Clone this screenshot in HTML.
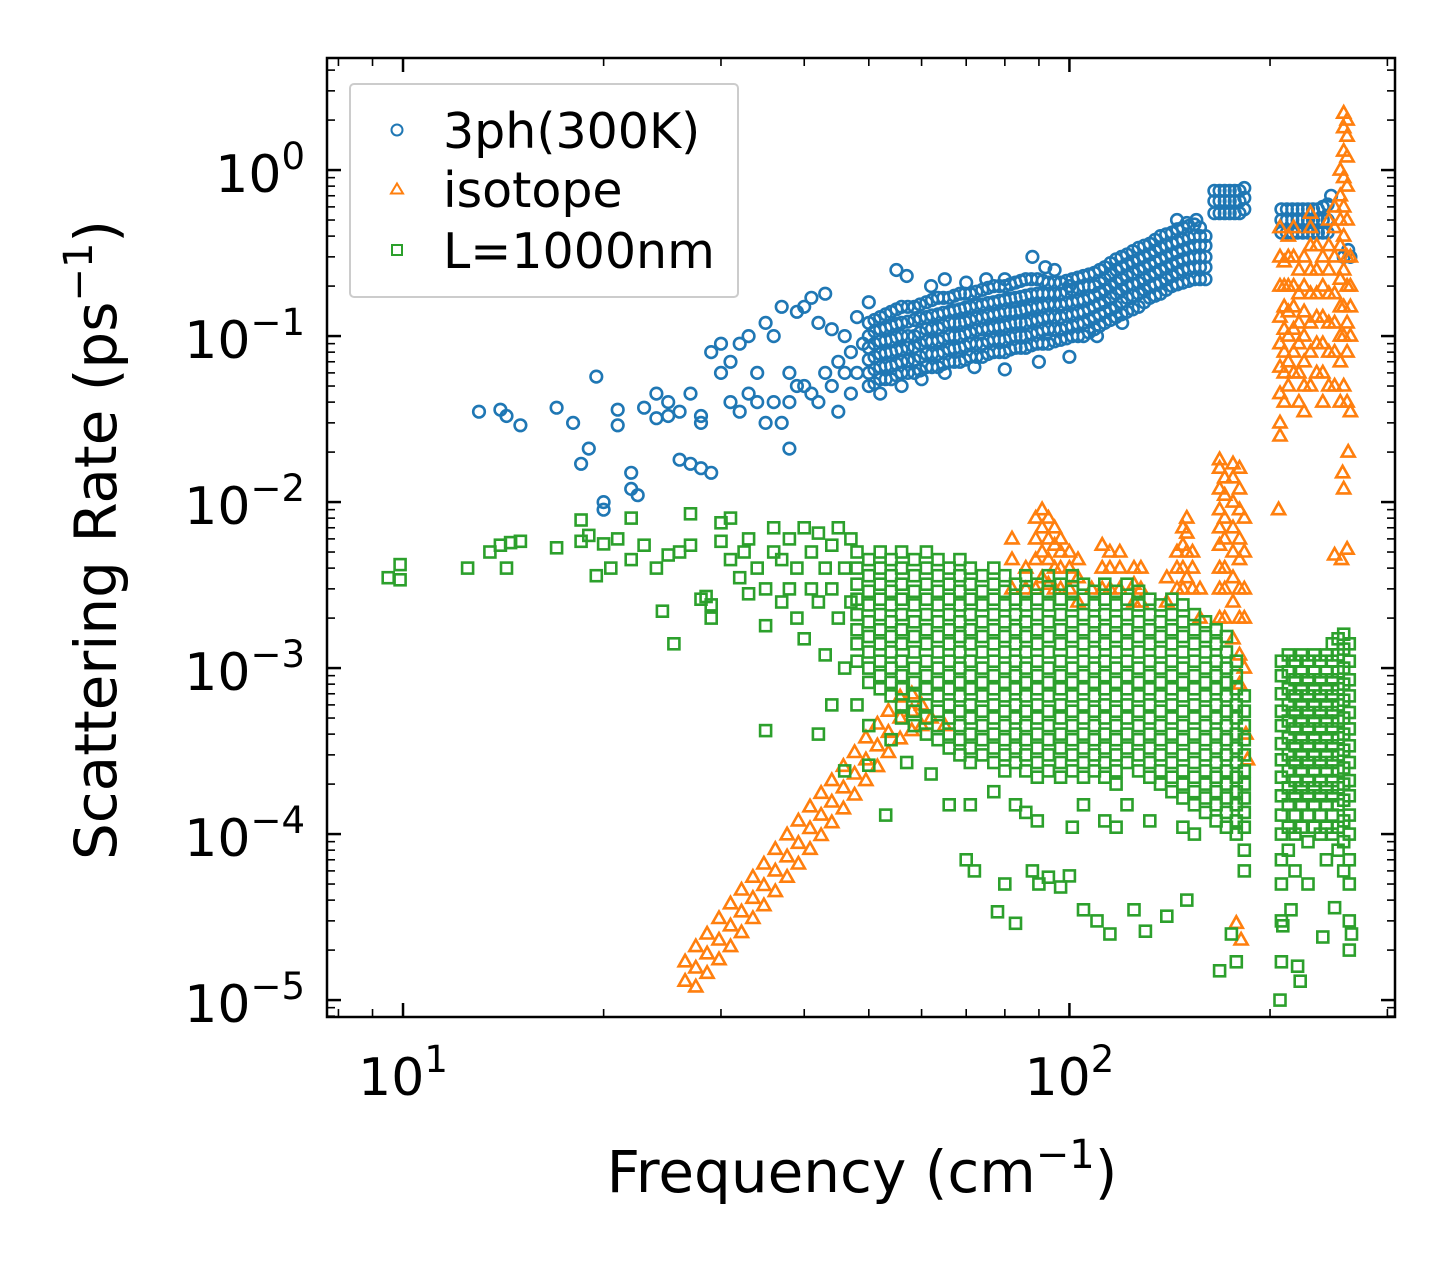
<!DOCTYPE html>
<html><head><meta charset="utf-8"><title>Scattering Rate vs Frequency</title>
<style>
html,body{margin:0;padding:0;background:#fff;}
svg{display:block;font-family:"DejaVu Sans","Liberation Sans",sans-serif;}
</style></head>
<body>
<svg id="chart" width="1455" height="1265" viewBox="0 0 1455 1265" xmlns="http://www.w3.org/2000/svg">
<rect x="0" y="0" width="1455" height="1265" fill="#fff"/>
<g id="marks"></g>
<g id="axes"></g>
<g id="legend">
  <rect x="350" y="84" width="388" height="213" rx="4" fill="#fff" fill-opacity="0.85" stroke="#cccccc" stroke-width="2"/>
  <g>
    <circle cx="397" cy="130" r="5.5" fill="none" stroke="#1f77b4" stroke-width="2"/>
    <text x="443" y="148" font-size="49" fill="#000">3ph(300K)</text>
  </g>
  <g>
    <polygon points="397,183.5 403,193.5 391,193.5" fill="none" stroke="#ff7f0e" stroke-width="2"/>
    <text x="443" y="207" font-size="49" fill="#000">isotope</text>
  </g>
  <g>
    <rect x="392" y="245" width="10" height="10" fill="none" stroke="#2ca02c" stroke-width="2"/>
    <text x="443" y="268" font-size="49" fill="#000">L=1000nm</text>
  </g>
</g>
<text transform="translate(116,540) rotate(-90)" text-anchor="middle" font-size="58" fill="#000">Scattering Rate (ps<tspan font-size="40" dy="-24">−1</tspan><tspan dy="24">)</tspan></text>
<text x="862" y="1192" text-anchor="middle" font-size="58" fill="#000">Frequency (cm<tspan font-size="40" dy="-24">−1</tspan><tspan dy="24">)</tspan></text>
</svg>
<script>
// ---- axis geometry ----
const plotL = 327, plotR = 1395, plotT = 58, plotB = 1017;
const xLogMin = Math.log10(7.69), xLogMax = Math.log10(308);
const yLogMin = -5.102, yLogMax = 0.675;
function xScale(f){ return plotL + (Math.log10(f) - xLogMin) / (xLogMax - xLogMin) * (plotR - plotL); }
function yScale(r){ return plotB - (Math.log10(r) - yLogMin) / (yLogMax - yLogMin) * (plotB - plotT); }

// ---- tick data ----
const xMajorTicks = [10, 100];
const xMajorLabels = ["1", "2"];
const xMinorTicks = [8, 9, 20, 30, 40, 50, 60, 70, 80, 90, 200, 300];
const yMajorTicks = [1e-5, 1e-4, 1e-3, 1e-2, 1e-1, 1];
const yMajorLabels = ["−5", "−4", "−3", "−2", "−1", "0"];
const yMinorMultipliers = [2, 3, 4, 5, 6, 7, 8, 9];

// ---- 3ph (300K) series ----
const phPoints = [[13,0.035],[14,0.036],[14.3,0.033],[15,0.029],[17,0.037],[18,0.03],[18.5,0.017],[19,0.021],[19.5,0.057],[20,0.009],[20,0.01],[21,0.036],[21,0.029],[22,0.012],[22,0.015],[22.5,0.011],[23,0.037],[24,0.045],[24,0.032],[25,0.033],[25,0.04],[26,0.018],[26,0.035],[27,0.045],[27,0.017],[28,0.033],[28,0.03],[28,0.016],[29,0.015],[29,0.08],[30,0.09],[30,0.06],[31,0.07],[31,0.04],[32,0.035],[32,0.09],[33,0.1],[33,0.045],[34,0.04],[34,0.06],[35,0.03],[35,0.12],[36,0.04],[36,0.1],[37,0.15],[37,0.03],[38,0.04],[38,0.06],[38,0.021],[39,0.14],[39,0.05],[40,0.15],[40,0.05],[41,0.045],[41,0.17],[42,0.12],[42,0.04],[43,0.18],[43,0.06],[44,0.05],[44,0.11],[45,0.07],[45,0.035],[46,0.1],[46,0.06],[47,0.08],[47,0.045],[48,0.13],[48,0.06],[49,0.09],[50,0.16],[55,0.25],[57,0.23],[62,0.2],[65,0.22],[70,0.21],[75,0.22],[80,0.22],[88,0.3],[92,0.26],[95,0.25],[100,0.2],[52,0.045],[56,0.05],[60,0.055],[65,0.06],[72,0.065],[80,0.063],[90,0.07],[100,0.075],[110,0.1],[120,0.12],[145,0.5],[150,0.48],[155,0.5],[258,0.3],[262,0.33],[264,0.3],[247,0.7]];
const phColumns = [[50,0.05,0.06,0.072,0.085,0.1,0.12],[52,0.055,0.065,0.078,0.093,0.11,0.13],[54,0.055,0.066,0.08,0.095,0.115,0.14],[56,0.06,0.07,0.083,0.1,0.12,0.15],[58.5,0.06,0.072,0.086,0.1,0.125,0.15],[61,0.065,0.078,0.093,0.11,0.13,0.16],[63.5,0.065,0.078,0.094,0.112,0.135,0.17],[66,0.07,0.083,0.1,0.12,0.14,0.17],[68.5,0.07,0.085,0.1,0.12,0.145,0.18],[71,0.075,0.09,0.105,0.125,0.15,0.18],[74,0.075,0.09,0.11,0.13,0.155,0.19],[77,0.08,0.095,0.113,0.135,0.16,0.2],[80,0.08,0.095,0.115,0.14,0.165,0.2],[83,0.085,0.1,0.12,0.14,0.17,0.21],[86,0.085,0.1,0.12,0.145,0.175,0.22],[89.5,0.09,0.105,0.125,0.15,0.18,0.22],[93,0.09,0.11,0.13,0.155,0.18,0.21],[97,0.095,0.11,0.13,0.155,0.18,0.21],[101,0.1,0.115,0.135,0.16,0.19,0.22],[105,0.1,0.12,0.14,0.165,0.2,0.23],[109,0.11,0.13,0.15,0.175,0.2,0.24],[113,0.12,0.14,0.16,0.19,0.22,0.26],[117.5,0.13,0.15,0.18,0.21,0.25,0.29],[122,0.14,0.17,0.2,0.23,0.27,0.31],[127,0.15,0.18,0.21,0.25,0.29,0.34],[132,0.17,0.2,0.23,0.27,0.31,0.36],[137,0.18,0.21,0.25,0.29,0.34,0.4],[142.5,0.2,0.23,0.27,0.31,0.36,0.42],[148,0.21,0.25,0.29,0.33,0.38,0.45],[154,0.22,0.26,0.3,0.35,0.4,0.47],[160,0.22,0.26,0.3,0.35,0.4],[165,0.55,0.65,0.75],[168,0.55,0.65,0.75],[171,0.55,0.65,0.75],[174,0.55,0.65,0.75],[177,0.55,0.65,0.75],[180,0.55,0.65,0.75],[183,0.58,0.68,0.78],[208,0.42,0.5,0.58],[212,0.42,0.5,0.58],[216,0.42,0.5,0.58],[220,0.42,0.5,0.58],[224,0.42,0.5,0.58],[228,0.42,0.5,0.58],[232,0.42,0.5,0.58],[236,0.42,0.5,0.58],[240,0.42,0.5,0.6],[244,0.42,0.5,0.62],
[51,0.052,0.063,0.075,0.09,0.107,0.125],[53,0.055,0.066,0.079,0.094,0.112,0.135],[55,0.058,0.068,0.082,0.098,0.118,0.145],[57.2,0.06,0.071,0.085,0.1,0.122,0.15],[59.7,0.062,0.075,0.09,0.105,0.128,0.155],[62.2,0.065,0.078,0.093,0.111,0.133,0.165],[64.7,0.068,0.08,0.097,0.116,0.138,0.17],[67.2,0.07,0.084,0.1,0.12,0.143,0.175],[69.7,0.072,0.087,0.103,0.122,0.148,0.18],[72.5,0.075,0.09,0.108,0.128,0.153,0.185],[75.5,0.078,0.093,0.111,0.133,0.158,0.195],[78.5,0.08,0.095,0.114,0.137,0.163,0.2],[81.5,0.083,0.098,0.118,0.14,0.168,0.205],[84.5,0.085,0.1,0.12,0.143,0.172,0.215],[87.7,0.088,0.103,0.123,0.148,0.178,0.22],[91.2,0.09,0.108,0.128,0.152,0.18,0.215],[95,0.093,0.11,0.13,0.155,0.18,0.21],[99,0.097,0.113,0.133,0.158,0.185,0.215],[103,0.1,0.118,0.138,0.163,0.195,0.225],[107,0.105,0.125,0.145,0.17,0.2,0.235],[111,0.115,0.135,0.155,0.182,0.21,0.25],[115.2,0.125,0.145,0.17,0.2,0.235,0.275],[119.7,0.135,0.16,0.19,0.22,0.26,0.3],[124.5,0.145,0.175,0.205,0.24,0.28,0.325],[129.5,0.16,0.19,0.22,0.26,0.3,0.35],[134.5,0.175,0.205,0.24,0.28,0.325,0.38],[139.7,0.19,0.22,0.26,0.3,0.35,0.41],[145.2,0.205,0.24,0.28,0.32,0.37,0.44],[151,0.215,0.255,0.295,0.34,0.39,0.46],[157,0.22,0.26,0.3,0.35,0.4,0.45]];

// ---- isotope series ----
const isoColumns = [[26.5,1.3e-5,1.7e-5],[27.5,1.2e-5,1.56e-5,2.1e-5],[28.6,1.45e-5,1.9e-5,2.5e-5],[29.8,1.75e-5,2.3e-5,3.1e-5],[31,2.1e-5,2.8e-5,3.8e-5],[32.2,2.55e-5,3.4e-5,4.6e-5],[33.5,3.1e-5,4.1e-5,5.5e-5],[34.8,3.7e-5,4.9e-5,6.6e-5],[36.2,4.5e-5,6e-5,8.1e-5],[37.7,5.5e-5,7.3e-5,9.9e-5],[39.2,6.6e-5,8.8e-5,1.2e-4],[40.8,8.1e-5,1.08e-4,1.46e-4],[42.4,9.8e-5,1.3e-4,1.76e-4],[44,1.17e-4,1.56e-4,2.1e-4],[45.8,1.42e-4,1.9e-4,2.56e-4],[47.6,1.72e-4,2.3e-4,3.1e-4],[49.5,2.1e-4,2.8e-4,3.8e-4],[51.5,2.55e-4,3.4e-4,4.6e-4],[53.5,3.1e-4,4.1e-4,5.5e-4],[55.7,3.75e-4,5e-4,6.7e-4],[58,4.2e-4,5.5e-4,7e-4],[60,4.5e-4,6e-4],[62,5e-4],[65,4.5e-4],[82,3e-3,4.5e-3,6e-3],[86,3e-3,4e-3],[89,3e-3,4.5e-3,6e-3,8e-3],[91,3.5e-3,5e-3,7e-3,9e-3],[93,3.2e-3,4.5e-3,6e-3,8e-3],[95,3e-3,4e-3,5.5e-3,7e-3],[97,3e-3,4e-3,5e-3,6e-3],[100,3e-3,4e-3,5e-3],[103,2.5e-3,3.5e-3,4.5e-3],[108,3e-3],[112,3e-3,4e-3,5.5e-3],[115,3e-3,4e-3,5e-3],[119,3e-3,4e-3,5e-3],[125,2.5e-3,3.2e-3,4e-3],[128,2.5e-3,3e-3,4e-3],[140,2.5e-3,3.5e-3],[145,3e-3,4e-3,5e-3],[148,3e-3,4e-3,5.5e-3,7e-3],[150,3.5e-3,5e-3,6.5e-3,8e-3],[153,3e-3,4e-3,5e-3],[157,2e-3,3e-3],[168,2e-3,3e-3,4e-3,5.5e-3,7e-3,9e-3,0.012,0.016,0.018],[171,2e-3,3e-3,4e-3,6e-3,8e-3,0.011,0.014],[176,1.5e-3,2.5e-3,3.5e-3,5e-3,7e-3,0.01,0.014,0.017],[180,1.2e-3,2e-3,3e-3,4.5e-3,6e-3,9e-3,0.012,0.016],[183,1e-3,2e-3,3e-3,5e-3,8e-3],[207,0.03,0.045,0.065,0.09,0.13,0.2,0.3,0.45],[210,0.04,0.06,0.08,0.11,0.15,0.2,0.28],[213,0.05,0.07,0.1,0.14,0.2,0.3,0.4],[217,0.06,0.08,0.11,0.15,0.2,0.3,0.45],[221,0.04,0.06,0.09,0.12,0.18,0.25],[225,0.035,0.05,0.07,0.1,0.14,0.2,0.3],[230,0.05,0.08,0.12,0.18,0.25,0.35,0.45,0.55],[235,0.06,0.09,0.13,0.18,0.25,0.35],[240,0.04,0.06,0.09,0.13,0.2,0.3],[245,0.05,0.08,0.12,0.18,0.25,0.35,0.5],[250,0.05,0.08,0.12,0.18,0.3,0.45,0.6],[255,0.04,0.07,0.1,0.15,0.22,0.35,0.5,0.7,1.0],[258,0.05,0.1,0.15,0.25,0.4,0.6,0.9,1.3,1.8,2.2],[261,0.04,0.08,0.12,0.2,0.3,0.5,0.8,1.2,1.6,2.0],[264,0.035,0.1,0.15,0.2,0.3]];
const isoPoints = [[180,8e-4],[178,2.9e-5],[181,2.3e-5],[184,4e-4],[185,2.8e-4],[206,0.009],[250,0.0048],[256,0.0045],[261,0.0052],[258,0.012],[262,0.02],[257,0.015],[207,0.025]];

// ---- L=1000nm boundary series ----
const bndPoints = [[9.5,3.5e-3],[9.9,4.2e-3],[9.9,3.4e-3],[12.5,4e-3],[13.5,5e-3],[14,5.5e-3],[14.3,4e-3],[14.5,5.7e-3],[15,5.8e-3],[17,5.3e-3],[18.5,5.8e-3],[18.5,7.8e-3],[19,6.3e-3],[19.5,3.6e-3],[20,5.6e-3],[20.5,4e-3],[21,6e-3],[22,8e-3],[22,4.5e-3],[23,5.5e-3],[24,4e-3],[24.5,2.2e-3],[25,4.8e-3],[25.5,1.4e-3],[26,5e-3],[27,8.5e-3],[27,5.5e-3],[28,2.6e-3],[28.5,2.7e-3],[29,2.4e-3],[29,2e-3],[30,5.8e-3],[30,7.5e-3],[31,8e-3],[31,4.5e-3],[32,3.5e-3],[32.5,5e-3],[33,2.8e-3],[33,6e-3],[34,4e-3],[35,1.8e-3],[35,3e-3],[36,5e-3],[36,7e-3],[37,2.5e-3],[37,4.5e-3],[38,3e-3],[38,6e-3],[39,2e-3],[39,4e-3],[40,7e-3],[40,1.5e-3],[41,3e-3],[41,5e-3],[42,2.5e-3],[42,6.5e-3],[43,4e-3],[43,1.2e-3],[44,3e-3],[44,5.5e-3],[45,7e-3],[45,2e-3],[46,4e-3],[46,1e-3],[47,6e-3],[47,2.5e-3],[35,4.2e-4],[44,6e-4],[46,2.4e-4],[42,4e-4],[50,2.6e-4],[53,1.3e-4],[57,2.7e-4],[62,2.3e-4],[66,1.5e-4],[78,3.4e-5],[80,5e-5],[83,2.9e-5],[88,6e-5],[90,5e-5],[93,5.5e-5],[97,4.8e-5],[100,5.6e-5],[105,3.5e-5],[110,3e-5],[115,2.5e-5],[125,3.5e-5],[130,2.6e-5],[140,3.2e-5],[150,4e-5],[168,1.5e-5],[175,2.5e-5],[178,1.7e-5],[70,7e-5],[72,6e-5],[207,1e-5],[208,1.7e-5],[209,2.8e-5],[220,1.6e-5],[222,1.3e-5],[240,2.4e-5],[250,3.6e-5],[265,2.5e-5],[215,3.5e-5]];
const bndColumns = [[48,5e-3,4e-3,3.2e-3,2.6e-3,2.1e-3,1.7e-3,1.4e-3,1.1e-3,6e-4],[50,4.5e-3,3.6e-3,2.9e-3,2.4e-3,1.9e-3,1.55e-3,1.25e-3,1e-3,8.2e-4,4.5e-4],[52,5e-3,4e-3,3.2e-3,2.6e-3,2.1e-3,1.7e-3,1.4e-3,1.1e-3,9e-4,7.5e-4],[54,4.5e-3,3.6e-3,2.9e-3,2.4e-3,1.9e-3,1.55e-3,1.25e-3,1e-3,8.2e-4,6.8e-4,3.7e-4],[56,5e-3,4e-3,3.2e-3,2.6e-3,2.1e-3,1.7e-3,1.4e-3,1.1e-3,9e-4,7.5e-4,6e-4,5e-4],[58.5,4.5e-3,3.6e-3,2.9e-3,2.4e-3,1.9e-3,1.55e-3,1.25e-3,1e-3,8.2e-4,6.8e-4,5.5e-4,4.5e-4],[61,5e-3,4e-3,3.2e-3,2.6e-3,2.1e-3,1.7e-3,1.4e-3,1.1e-3,9e-4,7.5e-4,6e-4,5e-4,4e-4],[63.5,4.5e-3,3.6e-3,2.9e-3,2.4e-3,1.9e-3,1.55e-3,1.25e-3,1e-3,8.2e-4,6.8e-4,5.5e-4,4.5e-4,3.7e-4],[66,4e-3,3.2e-3,2.6e-3,2.1e-3,1.7e-3,1.4e-3,1.1e-3,9e-4,7.5e-4,6e-4,5e-4,4e-4,3.3e-4],[68.5,4.5e-3,3.6e-3,2.9e-3,2.4e-3,1.9e-3,1.55e-3,1.25e-3,1e-3,8.2e-4,6.8e-4,5.5e-4,4.5e-4,3.7e-4,3e-4],[71,4e-3,3.2e-3,2.6e-3,2.1e-3,1.7e-3,1.4e-3,1.1e-3,9e-4,7.5e-4,6e-4,5e-4,4e-4,3.3e-4,2.7e-4,1.5e-4],[74,3.6e-3,2.9e-3,2.4e-3,1.9e-3,1.55e-3,1.25e-3,1e-3,8.2e-4,6.8e-4,5.5e-4,4.5e-4,3.7e-4,3e-4],[77,4e-3,3.2e-3,2.6e-3,2.1e-3,1.7e-3,1.4e-3,1.1e-3,9e-4,7.5e-4,6e-4,5e-4,4e-4,3.3e-4,2.7e-4,1.8e-4],[80,3.6e-3,2.9e-3,2.4e-3,1.9e-3,1.55e-3,1.25e-3,1e-3,8.2e-4,6.8e-4,5.5e-4,4.5e-4,3.7e-4,3e-4,2.4e-4],[83,3.2e-3,2.6e-3,2.1e-3,1.7e-3,1.4e-3,1.1e-3,9e-4,7.5e-4,6e-4,5e-4,4e-4,3.3e-4,2.7e-4,1.5e-4],[86,3.6e-3,2.9e-3,2.4e-3,1.9e-3,1.55e-3,1.25e-3,1e-3,8.2e-4,6.8e-4,5.5e-4,4.5e-4,3.7e-4,3e-4,2.4e-4,1.35e-4],[89.5,3.2e-3,2.6e-3,2.1e-3,1.7e-3,1.4e-3,1.1e-3,9e-4,7.5e-4,6e-4,5e-4,4e-4,3.3e-4,2.7e-4,2.2e-4,1.2e-4],[93,3.6e-3,2.9e-3,2.4e-3,1.9e-3,1.55e-3,1.25e-3,1e-3,8.2e-4,6.8e-4,5.5e-4,4.5e-4,3.7e-4,3e-4,2.4e-4],[97,3.2e-3,2.6e-3,2.1e-3,1.7e-3,1.4e-3,1.1e-3,9e-4,7.5e-4,6e-4,5e-4,4e-4,3.3e-4,2.7e-4,2.2e-4],[101,3.6e-3,2.9e-3,2.4e-3,1.9e-3,1.55e-3,1.25e-3,1e-3,8.2e-4,6.8e-4,5.5e-4,4.5e-4,3.7e-4,3e-4,2.4e-4,1.1e-4],[105,3.2e-3,2.6e-3,2.1e-3,1.7e-3,1.4e-3,1.1e-3,9e-4,7.5e-4,6e-4,5e-4,4e-4,3.3e-4,2.7e-4,2.2e-4,1.5e-4],[109,2.9e-3,2.4e-3,1.9e-3,1.55e-3,1.25e-3,1e-3,8.2e-4,6.8e-4,5.5e-4,4.5e-4,3.7e-4,3e-4,2.4e-4],[113,3.2e-3,2.6e-3,2.1e-3,1.7e-3,1.4e-3,1.1e-3,9e-4,7.5e-4,6e-4,5e-4,4e-4,3.3e-4,2.7e-4,2.2e-4,1.2e-4],[117.5,2.9e-3,2.4e-3,1.9e-3,1.55e-3,1.25e-3,1e-3,8.2e-4,6.8e-4,5.5e-4,4.5e-4,3.7e-4,3e-4,2.4e-4,2e-4,1.1e-4],[122,3.2e-3,2.6e-3,2.1e-3,1.7e-3,1.4e-3,1.1e-3,9e-4,7.5e-4,6e-4,5e-4,4e-4,3.3e-4,2.7e-4,1.5e-4],[127,2.9e-3,2.4e-3,1.9e-3,1.55e-3,1.25e-3,1e-3,8.2e-4,6.8e-4,5.5e-4,4.5e-4,3.7e-4,3e-4,2.4e-4],[132,2.6e-3,2.1e-3,1.7e-3,1.4e-3,1.1e-3,9e-4,7.5e-4,6e-4,5e-4,4e-4,3.3e-4,2.7e-4,2.2e-4,1.2e-4],[137,2.4e-3,1.9e-3,1.55e-3,1.25e-3,1e-3,8.2e-4,6.8e-4,5.5e-4,4.5e-4,3.7e-4,3e-4,2.4e-4,2e-4],[142.5,2.6e-3,2.1e-3,1.7e-3,1.4e-3,1.1e-3,9e-4,7.5e-4,6e-4,5e-4,4e-4,3.3e-4,2.7e-4,2.2e-4,1.8e-4],[148,2.4e-3,1.9e-3,1.55e-3,1.25e-3,1e-3,8.2e-4,6.8e-4,5.5e-4,4.5e-4,3.7e-4,3e-4,2.4e-4,2e-4,1.65e-4,1.1e-4],[154,2.1e-3,1.7e-3,1.4e-3,1.1e-3,9e-4,7.5e-4,6e-4,5e-4,4e-4,3.3e-4,2.7e-4,2.2e-4,1.8e-4,1.5e-4,1e-4],[160,1.9e-3,1.55e-3,1.25e-3,1e-3,8.2e-4,6.8e-4,5.5e-4,4.5e-4,3.7e-4,3e-4,2.4e-4,2e-4,1.65e-4,1.35e-4],[166,1.7e-3,1.4e-3,1.1e-3,9e-4,7.5e-4,6e-4,5e-4,4e-4,3.3e-4,2.7e-4,2.2e-4,1.8e-4,1.5e-4,1.2e-4],[172,1.55e-3,1.25e-3,1e-3,8.2e-4,6.8e-4,5.5e-4,4.5e-4,3.7e-4,3e-4,2.4e-4,2e-4,1.65e-4,1.35e-4,1.1e-4],[178,1.1e-3,9e-4,7.5e-4,6e-4,5e-4,4e-4,3.3e-4,2.7e-4,2.2e-4,1.8e-4,1.5e-4,1.2e-4,1e-4],[183,6.8e-4,5.5e-4,4.5e-4,3.7e-4,3e-4,2.4e-4,2e-4,1.65e-4,1.35e-4,1.1e-4,8e-5,6e-5],[208,1.1e-3,9e-4,7e-4,5.5e-4,4.5e-4,3.5e-4,2.8e-4,2.2e-4,1.7e-4,1.3e-4,1e-4,7e-5,5e-5,3e-5],[213,1.2e-3,9.5e-4,7.5e-4,6e-4,4.8e-4,3.8e-4,3e-4,2.4e-4,1.9e-4,1.5e-4,1.1e-4,8e-5],[218,1.1e-3,8.5e-4,6.8e-4,5.4e-4,4.3e-4,3.4e-4,2.7e-4,2.1e-4,1.7e-4,1.3e-4,1e-4,6e-5],[223,1.2e-3,9.5e-4,7.5e-4,6e-4,4.8e-4,3.8e-4,3e-4,2.4e-4,1.9e-4,1.5e-4,1.1e-4],[228,1.1e-3,8.5e-4,6.8e-4,5.4e-4,4.3e-4,3.4e-4,2.7e-4,2.1e-4,1.7e-4,1.3e-4,9e-5,5e-5],[233,1.2e-3,9.5e-4,7.5e-4,6e-4,4.8e-4,3.8e-4,3e-4,2.4e-4,1.9e-4,1.5e-4,1.1e-4],[238,1.1e-3,8.5e-4,6.8e-4,5.4e-4,4.3e-4,3.4e-4,2.7e-4,2.1e-4,1.7e-4,1.3e-4,1e-4],[243,1.2e-3,9.5e-4,7.5e-4,6e-4,4.8e-4,3.8e-4,3e-4,2.4e-4,1.9e-4,1.5e-4,1.1e-4,7e-5],[248,1.4e-3,1.1e-3,8.5e-4,6.8e-4,5.4e-4,4.3e-4,3.4e-4,2.7e-4,2.1e-4,1.7e-4,1.3e-4,1e-4],[253,1.5e-3,1.2e-3,9.5e-4,7.5e-4,6e-4,4.8e-4,3.8e-4,3e-4,2.4e-4,1.9e-4,1.5e-4,1.1e-4,8e-5],[258,1.6e-3,1.3e-3,1e-3,8e-4,6.4e-4,5e-4,4e-4,3.2e-4,2.5e-4,2e-4,1.6e-4,1.2e-4,9e-5,6e-5],[263,1.4e-3,1.1e-3,8.5e-4,6.8e-4,5.4e-4,4.3e-4,3.4e-4,2.7e-4,2.1e-4,1.7e-4,1.3e-4,1e-4,7e-5,5e-5,3e-5,2e-5]];

const NS = "http://www.w3.org/2000/svg";
const marks = document.getElementById('marks');
const axes = document.getElementById('axes');

function flatten(points, columns){
  const out = points.slice();
  columns.forEach(c => { for (let i = 1; i < c.length; i++) out.push([c[0], c[i]]); });
  return out;
}

function drawSeries(name, color, shape, points, columns){
  const g = document.createElementNS(NS, 'g');
  
  
  g.setAttribute('fill', 'none');
  g.setAttribute('stroke', color);
  g.setAttribute('stroke-width', '2.6');
  flatten(points, columns).forEach(p => {
    const x = xScale(p[0]), y = yScale(p[1]);
    if (x < plotL || x > plotR || y < plotT || y > plotB) return;
    let el;
    if (shape === 'circle') {
      el = document.createElementNS(NS, 'circle');
      el.setAttribute('cx', x.toFixed(1)); el.setAttribute('cy', y.toFixed(1)); el.setAttribute('r', '5.8');
    } else if (shape === 'tri') {
      el = document.createElementNS(NS, 'polygon');
      el.setAttribute('points', `${x.toFixed(1)},${(y-7).toFixed(1)} ${(x+6.5).toFixed(1)},${(y+4.5).toFixed(1)} ${(x-6.5).toFixed(1)},${(y+4.5).toFixed(1)}`);
    } else {
      el = document.createElementNS(NS, 'rect');
      el.setAttribute('x', (x-5.5).toFixed(1)); el.setAttribute('y', (y-5.5).toFixed(1));
      el.setAttribute('width', '11'); el.setAttribute('height', '11');
    }
    
    
    g.appendChild(el);
  });
  marks.appendChild(g);
}

drawSeries('series-3ph', '#1f77b4', 'circle', phPoints, phColumns);
drawSeries('series-isotope', '#ff7f0e', 'tri', isoPoints, isoColumns);
drawSeries('series-boundary', '#2ca02c', 'square', bndPoints, bndColumns);

function line(x1,y1,x2,y2,w,name){
  const l = document.createElementNS(NS,'line');
  l.setAttribute('x1',x1); l.setAttribute('y1',y1); l.setAttribute('x2',x2); l.setAttribute('y2',y2);
  l.setAttribute('stroke','#000'); l.setAttribute('stroke-width',w);
  
  
  axes.appendChild(l);
}

const frame = document.createElementNS(NS,'rect');
frame.setAttribute('x',plotL); frame.setAttribute('y',plotT);
frame.setAttribute('width',plotR-plotL); frame.setAttribute('height',plotB-plotT);
frame.setAttribute('fill','none'); frame.setAttribute('stroke','#000'); frame.setAttribute('stroke-width','2.5');


axes.appendChild(frame);

const MAJ = 14, MIN = 8;
xMajorTicks.forEach((v,i) => {
  const x = xScale(v);
  line(x,plotB,x,plotB-MAJ,2.5,'x-major-tick');
  line(x,plotT,x,plotT+MAJ,2.5,'x-major-tick-top');
  const t = document.createElementNS(NS,'text');
  t.setAttribute('x', x); t.setAttribute('y', 1095);
  t.setAttribute('text-anchor','middle'); t.setAttribute('font-size','52');
  t.innerHTML = '10<tspan font-size="37" dy="-23">' + xMajorLabels[i] + '</tspan>';
  
  
  axes.appendChild(t);
});
xMinorTicks.forEach(v => {
  const x = xScale(v);
  if (x <= plotL || x >= plotR) return;
  line(x,plotB,x,plotB-MIN,1.6,'x-minor-tick');
  line(x,plotT,x,plotT+MIN,1.6,'x-minor-tick-top');
});
yMajorTicks.forEach((v,i) => {
  const y = yScale(v);
  line(plotL,y,plotL+MAJ,y,2.5,'y-major-tick');
  line(plotR,y,plotR-MAJ,y,2.5,'y-major-tick-right');
  const t = document.createElementNS(NS,'text');
  t.setAttribute('x', 305); t.setAttribute('y', y + 22);
  t.setAttribute('text-anchor','end'); t.setAttribute('font-size','52');
  t.innerHTML = '10<tspan font-size="37" dy="-23">' + yMajorLabels[i] + '</tspan>';
  
  
  axes.appendChild(t);
});
for (let d = -6; d <= 0; d++) {
  yMinorMultipliers.forEach(m => {
    const y = yScale(m * Math.pow(10, d));
    if (y <= plotT || y >= plotB) return;
    line(plotL,y,plotL+MIN,y,1.6,'y-minor-tick');
    line(plotR,y,plotR-MIN,y,1.6,'y-minor-tick-right');
  });
}
</script>
</body></html>
